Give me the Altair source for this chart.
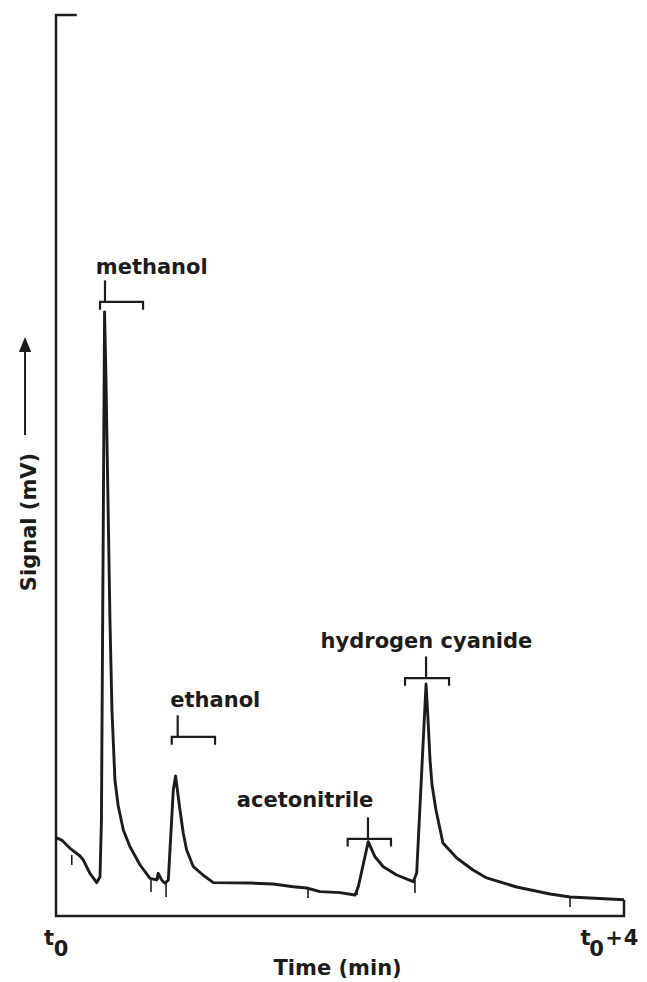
import altair as alt
import pandas as pd

# ---- chromatogram trace (time in min after t0, signal in arbitrary mV units) ----
trace_t = [0.000, 0.040, 0.099, 0.169, 0.192, 0.239, 0.287, 0.310, 0.320, 0.342,
           0.352, 0.366, 0.380, 0.394, 0.415, 0.437, 0.474, 0.521, 0.592, 0.662,
           0.709, 0.720, 0.744, 0.768, 0.791, 0.826, 0.842, 0.873, 0.896, 0.920,
           0.967, 1.035, 1.108, 1.366, 1.530, 1.671, 1.765, 1.859, 2.000, 2.106,
           2.129, 2.199, 2.246, 2.305, 2.399, 2.516, 2.540, 2.606, 2.620, 2.634,
           2.648, 2.676, 2.725, 2.822, 2.937, 3.033, 3.244, 3.479, 3.620, 4.000]
trace_s = [8.70, 8.43, 7.51, 6.66, 6.22, 4.74, 3.70, 4.36, 10.65, 67.04,
           59.50, 46.20, 32.85, 22.86, 15.09, 12.32, 9.54, 7.69, 5.66, 4.18,
           4.00, 4.74, 4.00, 3.63, 4.00, 13.98, 15.54, 11.76, 9.21, 7.33,
           5.47, 4.55, 3.70, 3.66, 3.55, 3.25, 3.11, 2.70, 2.59, 2.33,
           3.25, 8.25, 6.58, 5.47, 4.55, 3.81, 4.77, 25.75, 21.75, 17.31,
           14.54, 11.76, 8.10, 6.44, 5.11, 4.22, 3.22, 2.44, 2.11, 1.80]

# integration marks on the trace
mark_t = [0.111, 0.669, 0.718, 0.775, 1.775, 2.120, 2.528, 3.620]
mark_s_top = [6.77, 4.00, 4.88, 3.66, 3.11, 3.22, 4.00, 2.11]
mark_s_bot = [5.66, 2.66, 4.00, 2.11, 2.00, 2.33, 2.55, 1.00]

# peak annotations
peak_names = ["methanol", "ethanol", "acetonitrile", "hydrogen cyanide"]
peak_stem_t = [0.345, 0.857, 2.197, 2.606]
peak_bar_s = [68.15, 19.87, 8.55, 26.41]
peak_left_t = [0.310, 0.815, 2.054, 2.458]
peak_right_t = [0.613, 1.120, 2.359, 2.768]
peak_label_t = [0.674, 1.122, 1.754, 2.609]
peak_label_s = [71.25, 23.16, 12.13, 29.70]

# frame of the plot
frame_t = [0.146, 0.0, 0.0, 4.0, 4.0]
frame_s = [100.0, 100.0, 0.0, 0.0, 1.8]

# axis annotations
axis_text = ["t", "0", "t", "0", "+", "4", "Time (min)"]
axis_text_t = [-0.049, 0.035, 3.729, 3.806, 3.930, 4.049, 1.983]
axis_text_s = [-3.22, -4.45, -3.22, -4.45, -3.22, -3.22, -6.55]
ylabel_text = ["Signal (mV)"]
ylabel_t = [-0.144]
ylabel_s = [43.73]
arrow_t = [-0.218]
arrow_s0 = [53.38]
arrow_s1 = [62.80]
arrow_head_s = [63.43]

STEM = 2.4
TICK = 0.85
INK = "#1c1c1c"
FONT = "DejaVu Sans"

X = alt.Scale(domain=[0, 4], range=[48, 616], nice=False, zero=False)
Y = alt.Scale(domain=[0, 100], range=[908, 7], nice=False, zero=False)


def xe(field="t"):
    return alt.X(f"{field}:Q", scale=X, axis=None)


def ye(field="s"):
    return alt.Y(f"{field}:Q", scale=Y, axis=None)


trace_df = pd.DataFrame({"t": trace_t, "s": trace_s, "o": range(len(trace_t))})
frame_df = pd.DataFrame({"t": frame_t, "s": frame_s, "o": range(len(frame_t))})
marks_df = pd.DataFrame({"t": mark_t, "s": mark_s_top, "s2": mark_s_bot})

br_rows = []
for n, l, r, b in zip(peak_names, peak_left_t, peak_right_t, peak_bar_s):
    br_rows += [
        {"name": n, "o": 0, "t": l, "s": b - TICK},
        {"name": n, "o": 1, "t": l, "s": b},
        {"name": n, "o": 2, "t": r, "s": b},
        {"name": n, "o": 3, "t": r, "s": b - TICK},
    ]
br_df = pd.DataFrame(br_rows)
stem_df = pd.DataFrame({"t": peak_stem_t, "s": peak_bar_s,
                        "s2": [b + STEM for b in peak_bar_s]})
lab_df = pd.DataFrame({"name": peak_names, "t": peak_label_t, "s": peak_label_s})
ax_df = pd.DataFrame({"txt": axis_text, "t": axis_text_t, "s": axis_text_s,
                      "k": range(len(axis_text))})
yl_df = pd.DataFrame({"txt": ylabel_text, "t": ylabel_t, "s": ylabel_s})
arrow_df = pd.DataFrame({"t": arrow_t, "s": arrow_s0, "s2": arrow_s1, "h": arrow_head_s})

frame = alt.Chart(frame_df).mark_line(color=INK, strokeWidth=2.5, strokeJoin="miter").encode(
    x=xe(), y=ye(), order="o:Q")
trace = alt.Chart(trace_df).mark_line(color=INK, strokeWidth=2.9, strokeJoin="round").encode(
    x=xe(), y=ye(), order="o:Q")
marks = alt.Chart(marks_df).mark_rule(color=INK, strokeWidth=1.6).encode(
    x=xe(), y=ye(), y2="s2:Q")
brackets = alt.Chart(br_df).mark_line(color=INK, strokeWidth=2.2, strokeJoin="miter").encode(
    x=xe(), y=ye(), order="o:Q", detail="name:N")
stems = alt.Chart(stem_df).mark_rule(color=INK, strokeWidth=2.2).encode(
    x=xe(), y=ye(), y2="s2:Q")
labels = alt.Chart(lab_df).mark_text(
    font=FONT, fontSize=21, fontWeight="bold", color=INK, align="center", baseline="alphabetic"
).encode(x=xe(), y=ye(), text="name:N")
axtext = alt.Chart(ax_df).mark_text(
    font=FONT, fontSize=21, fontWeight="bold", color=INK, align="center", baseline="alphabetic"
).encode(x=xe(), y=ye(), text="txt:N", detail="k:N")
ylab = alt.Chart(yl_df).mark_text(
    font=FONT, fontSize=21, fontWeight="bold", color=INK, align="center",
    baseline="alphabetic", angle=270
).encode(x=xe(), y=ye(), text="txt:N")
shaft = alt.Chart(arrow_df).mark_rule(color=INK, strokeWidth=2).encode(
    x=xe(), y=ye(), y2="s2:Q")
head = alt.Chart(arrow_df).mark_point(
    shape="M0,-1L0.82,1L-0.82,1Z", size=225, filled=True, color=INK, opacity=1
).encode(x=xe(), y=ye("h"))

chart = alt.layer(frame, trace, marks, brackets, stems, labels, axtext, ylab, shaft, head).properties(
    width=631, height=974, padding=0,
    autosize=alt.AutoSizeParams(type="none"),
).configure_view(stroke=None)

chart.save("out.html", embed_options={"renderer": "svg", "actions": False})
